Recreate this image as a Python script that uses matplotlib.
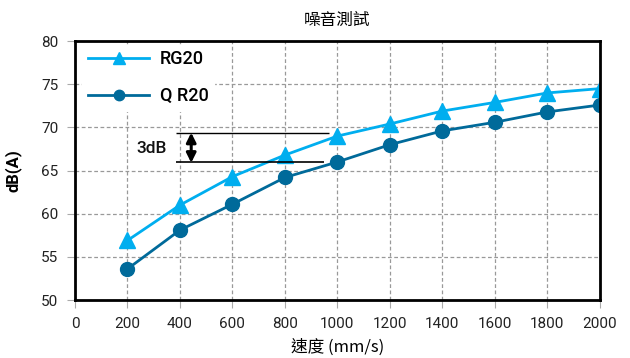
import numpy as np
import matplotlib.pyplot as plt

plt.rcParams['font.family'] = ['Roboto', 'Noto Sans CJK TC', 'DejaVu Sans']

speed = [200, 400, 600, 800, 1000, 1200, 1400, 1600, 1800, 2000]
rg20 = [56.9, 61.0, 64.3, 66.8, 69.0, 70.4, 71.9, 72.9, 74.0, 74.5]
qr20 = [53.6, 58.1, 61.1, 64.2, 66.0, 68.0, 69.6, 70.6, 71.8, 72.6]
series_names = ['RG20', 'Q R20']

c_light = '#00aeef'
c_dark = '#006a9a'

fig = plt.figure(figsize=(6.3, 3.58), dpi=100)
ax = fig.add_axes([0.119, 0.162, 0.833, 0.723])

ax.plot(speed, rg20, '-^', color=c_light, lw=2, ms=11, label=series_names[0])
ax.plot(speed, qr20, '-o', color=c_dark, lw=2, ms=10, label=series_names[1])

ax.set_xlim(0, 2000)
ax.set_ylim(50, 80)
ax.set_xticks(np.arange(0, 2001, 200))
ax.set_yticks(np.arange(50, 81, 5))
ax.grid(True, ls=(0, (3, 2)), color='#999999', lw=0.9)
ax.tick_params(colors='#aaaaaa', labelcolor='#222222', labelsize=11, length=6, pad=6)

for s in ax.spines:
    ax.spines[s].set_linewidth(2)
    ax.spines[s].set_color('black')

# 3dB marker
ax.hlines(69.3, 385, 970, color='black', lw=1)
ax.hlines(66.0, 385, 950, color='black', lw=1.2)
ax.annotate('', xy=(443, 65.9), xytext=(443, 69.4),
            arrowprops=dict(arrowstyle='<|-|>', color='black', lw=2.2, mutation_scale=14,
                            shrinkA=0, shrinkB=0))
ax.text(290, 67.6, '3dB', fontsize=12.5, fontweight='medium', ha='center', va='center',
        color='#111111')

leg = ax.legend(loc='upper left', frameon=True, handlelength=3.4, handletextpad=0.6,
                borderpad=0.3, labelspacing=1.05, edgecolor='white', framealpha=1,
                fancybox=False, markerscale=0.75, bbox_to_anchor=(-0.003, 1.02),
                prop={'size': 13, 'weight': 'medium'})

ax.set_title('噪音測試', fontsize=12, pad=12, family=['Noto Sans CJK TC'])
ax.set_xlabel('速度 (mm/s)', fontsize=12, family=['Noto Sans CJK TC', 'DejaVu Sans'], labelpad=6)
ax.set_ylabel('dB(A)', fontsize=12, fontweight='bold', labelpad=14)

fig.savefig('out.png', dpi=100)
